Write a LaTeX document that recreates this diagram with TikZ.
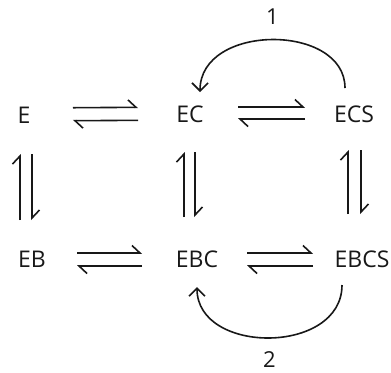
\documentclass[tikz,border=0pt]{standalone}
\usepackage{fontspec}
\setmainfont{Open Sans}
\usetikzlibrary{arrows.meta}
\definecolor{ink}{HTML}{181818}
\tikzset{
  species/.style={inner sep=0pt, text=ink, font=\fontsize{11.5}{13}\selectfont},
  rate/.style={inner sep=0pt, text=ink, font=\fontsize{11}{13}\selectfont},
  harp/.style={draw=ink, line width=0.8pt,
    -{Straight Barb[left, length=4pt, width=7.5pt]}},
  loop/.style={draw=ink, line width=0.8pt,
    -{Straight Barb[length=4pt, width=8pt]}},
}
\begin{document}
\begin{tikzpicture}[x=0.5pt, y=-0.5pt]
\useasboundingbox (0,0) rectangle (391,372);

% species
\node[species] (E)    at (24,115)  {E};
\node[species] (EC)   at (190,114) {EC};
\node[species] (ECS)  at (354,114) {ECS};
\node[species] (EB)   at (32,259)  {EB};
\node[species] (EBC)  at (197,259) {EBC};
\node[species] (EBCS) at (362,259) {EBCS};

% horizontal equilibria, top row
\draw[harp, shorten <=24.5pt, shorten >=26pt]
  ([yshift=3.5pt]E.center) -- ([yshift=3.5pt]EC.center);
\draw[harp, shorten <=26pt, shorten >=24.5pt]
  ([yshift=-3pt]EC.center) -- ([yshift=-3pt]E.center);
\draw[harp, shorten <=24pt, shorten >=24.5pt]
  ([yshift=3.5pt]EC.center) -- ([yshift=3.5pt]ECS.center);
\draw[harp, shorten <=24.5pt, shorten >=24pt]
  ([yshift=-2.5pt]ECS.center) -- ([yshift=-2.5pt]EC.center);

% horizontal equilibria, bottom row
\draw[harp, shorten <=22.5pt, shorten >=27.5pt]
  ([yshift=3pt]EB.center) -- ([yshift=3pt]EBC.center);
\draw[harp, shorten <=27.5pt, shorten >=22.5pt]
  ([yshift=-3.5pt]EBC.center) -- ([yshift=-3.5pt]EB.center);
\draw[harp, shorten <=25pt, shorten >=24.5pt]
  ([yshift=3pt]EBC.center) -- ([yshift=3pt]EBCS.center);
\draw[harp, shorten <=24.5pt, shorten >=25pt]
  ([yshift=-3.5pt]EBCS.center) -- ([yshift=-3.5pt]EBC.center);

% vertical equilibria
\draw[harp, shorten <=19.5pt, shorten >=19.5pt]
  ([xshift=-2pt]E.center |- EB.center) -- ([xshift=-2pt]E.center);
\draw[harp, shorten <=19.5pt, shorten >=19.5pt]
  ([xshift=4pt]E.center) -- ([xshift=4pt]E.center |- EB.center);
\draw[harp, shorten <=21pt, shorten >=19pt]
  ([xshift=-3pt]EC.center |- EBC.center) -- ([xshift=-3pt]EC.center);
\draw[harp, shorten <=19pt, shorten >=21pt]
  ([xshift=2.5pt]EC.center) -- ([xshift=2.5pt]EC.center |- EBC.center);
\draw[harp, shorten <=22.5pt, shorten >=18pt]
  ([xshift=-3pt]ECS.center |- EBCS.center) -- ([xshift=-3pt]ECS.center);
\draw[harp, shorten <=18pt, shorten >=22.5pt]
  ([xshift=3.5pt]ECS.center) -- ([xshift=3.5pt]ECS.center |- EBCS.center);

% catalytic loops
\draw[loop] ([xshift=-4.5pt, yshift=13pt]ECS.center)
  .. controls +(0,-65) and +(0,-69) .. ([xshift=5pt, yshift=11pt]EC.center)
  node[rate, pos=0.5, above=7pt] (k1) {1};
\draw[loop] ([xshift=-10pt, yshift=-13pt]EBCS.center)
  .. controls +(0,70) and +(0,68) .. ([yshift=-14pt]EBC.center)
  node[rate, pos=0.5, below=6.5pt] (k2) {2};
\end{tikzpicture}
\end{document}
